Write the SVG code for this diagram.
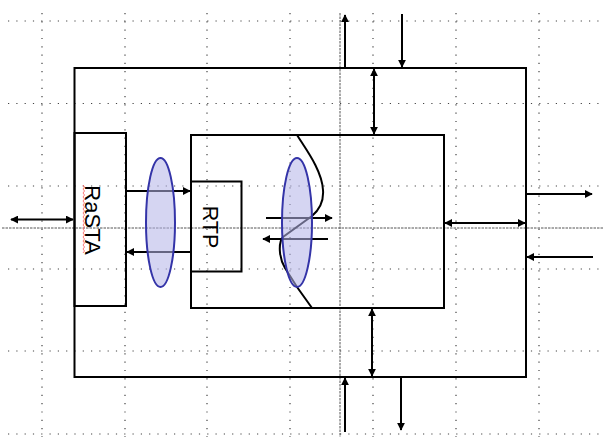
<svg xmlns="http://www.w3.org/2000/svg" width="603" height="437" viewBox="0 0 603 437">
<style>
.grid{stroke:#444;stroke-width:1.2;stroke-dasharray:1.2 7.1;fill:none}
.dense{stroke:#555;stroke-width:1;stroke-dasharray:2.5 1;fill:none}
.box{fill:none;stroke:#000;stroke-width:2}
.arr{fill:none;stroke:#000;stroke-width:2}
.lens{fill:rgb(180,180,232);fill-opacity:0.56;stroke:#3434a8;stroke-width:2}
.lbl{font-family:"Liberation Sans",Arial,sans-serif;fill:#000}
</style>
<defs>
<marker id="ah" viewBox="0 0 10 10" refX="9" refY="5" markerWidth="8" markerHeight="8" markerUnits="userSpaceOnUse" orient="auto-start-reverse">
<path d="M0,0 L10,5 L0,10 z" fill="#000"/>
</marker>
</defs>
<rect width="603" height="437" fill="#fff"/>
<g id="grid">
<path class="grid" d="M8,21H603M8,103.5H603M8,186H603M8,269H603M8,351H603M8,434H603"/>
<path class="grid" d="M42,13V437M125,13V437M207,13V437M290,13V437M373,13V437M456,13V437M539,13V437"/>
<path class="dense" d="M2,228H603M340,13V437"/>
</g>
<g id="outer"><rect class="box" x="74.5" y="68" width="451.5" height="309"/></g>
<g id="rasta">
<rect class="box" x="74.5" y="133" width="51.5" height="173"/>
<path d="M83,185 l1.5,2 l-1.5,2 l1.5,2 l-1.5,2 l1.5,2 l-1.5,2 l1.5,2 l-1.5,2 l1.5,2 l-1.5,2 l1.5,2 l-1.5,2 l1.5,2 l-1.5,2 l1.5,2 l-1.5,2 l1.5,2 l-1.5,2 l1.5,2 l-1.5,2 l1.5,2 l-1.5,2 l1.5,2 l-1.5,2 l1.5,2 l-1.5,2 l1.5,2 l-1.5,2 l1.5,2 l-1.5,2 l1.5,2 l-1.5,2 l1.5,2 l-1.5,2" fill="none" stroke="#ff5a5a" stroke-width="0.8"/>
<text class="lbl" font-size="22" text-anchor="middle" transform="translate(85,220) rotate(90)">RaSTA</text>
</g>
<g id="inner"><rect class="box" x="191" y="135" width="253" height="173"/></g>
<g id="rtp">
<rect class="box" x="191" y="181.5" width="50.5" height="90"/>
<text class="lbl" font-size="21.5" text-anchor="middle" transform="translate(202.5,227) rotate(90)">RTP</text>
</g>
<g id="curve"><path d="M297,135 C305,148 322,170 323,190 C324,203 318,211 312,216 L283,237 C278,243 279,258 285,268 L297,287 L312,308" fill="none" stroke="#000" stroke-width="2"/></g>
<g id="connectors">
<line class="arr" x1="126" y1="191" x2="190" y2="191" marker-end="url(#ah)"/>
<line class="arr" x1="191" y1="252" x2="127" y2="252" marker-end="url(#ah)"/>
<line class="arr" x1="11" y1="219.5" x2="73" y2="219.5" marker-start="url(#ah)" marker-end="url(#ah)"/>
<line class="arr" x1="445" y1="223" x2="525" y2="223" marker-start="url(#ah)" marker-end="url(#ah)"/>
<line class="arr" x1="526" y1="194" x2="592" y2="194" marker-end="url(#ah)"/>
<line class="arr" x1="593" y1="257" x2="527" y2="257" marker-end="url(#ah)"/>
<line class="arr" x1="345" y1="68" x2="345" y2="15" marker-end="url(#ah)"/>
<line class="arr" x1="402" y1="14" x2="402" y2="67" marker-end="url(#ah)"/>
<line class="arr" x1="374" y1="69" x2="374" y2="134" marker-start="url(#ah)" marker-end="url(#ah)"/>
<line class="arr" x1="372" y1="309" x2="372" y2="376" marker-start="url(#ah)" marker-end="url(#ah)"/>
<line class="arr" x1="345" y1="432" x2="345" y2="378" marker-end="url(#ah)"/>
<line class="arr" x1="401" y1="377" x2="401" y2="430" marker-end="url(#ah)"/>
<line class="arr" x1="266" y1="218" x2="332" y2="218" marker-end="url(#ah)"/>
<line class="arr" x1="328" y1="239" x2="263" y2="239" marker-end="url(#ah)"/>
</g>
<g id="lens-left"><ellipse class="lens" cx="160.5" cy="222.5" rx="14.5" ry="64.5"/></g>
<g id="lens-right"><ellipse class="lens" cx="297" cy="222.5" rx="15" ry="64.5"/></g>
</svg>
